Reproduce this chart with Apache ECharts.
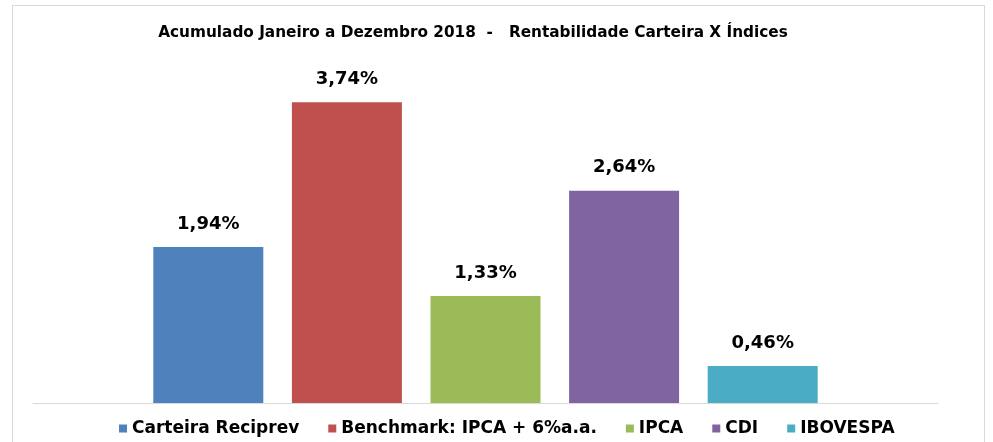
<!DOCTYPE html>
<html>
<head>
<meta charset="utf-8">
<script src="https://cdn.jsdelivr.net/npm/echarts@6/dist/echarts.min.js"></script>
<style>
  html, body { margin: 0; padding: 0; background: #fff; }
  #frame { position: absolute; left: 12px; top: 5px; width: 973px; height: 450px; border: 1px solid #d9d9d9; box-sizing: border-box; }
  #chart { position: absolute; left: 0; top: 0; width: 993px; height: 442px; }
</style>
</head>
<body>
<div id="frame"></div>
<div id="chart"></div>
<script>
const seriesNames = ["Carteira Reciprev", "Benchmark: IPCA + 6%a.a.", "IPCA", "CDI", "IBOVESPA"];
const seriesValues = [1.94, 3.74, 1.33, 2.64, 0.46];
const seriesColors = ["#4f81bd", "#c0504d", "#9bbb59", "#8064a2", "#4bacc6"];
const categories = [""];

const font = "DejaVu Sans";

const chart = echarts.init(document.getElementById("chart"));

chart.setOption({
  animation: false,
  title: {
    text: "Acumulado Janeiro a Dezembro 2018  -   Rentabilidade Carteira X Índices",
    left: 468,
    textAlign: "center",
    top: 21,
    textStyle: { fontFamily: font, fontWeight: "bold", fontSize: 15.3, color: "#000" },
  },
  legend: {
    bottom: 0,
    left: 114,
    itemWidth: 8,
    itemHeight: 8,
    itemGap: 29,
    icon: "rect",
    textStyle: { fontFamily: font, fontWeight: "bold", fontSize: 17, color: "#000" },
    data: seriesNames,
  },
  grid: { left: 33, right: 55, top: 41, bottom: 39 },
  xAxis: {
    type: "category",
    data: categories,
    axisTick: { show: false },
    axisLabel: { show: false },
    axisLine: { lineStyle: { color: "#d9d9d9", width: 1 } },
  },
  yAxis: {
    type: "value",
    min: 0,
    max: 4.5,
    show: false,
    splitLine: { show: false },
  },
  series: seriesNames.map((name, i) => ({
    name: name,
    type: "bar",
    barWidth: 110,
    barGap: "26%",
    itemStyle: { color: seriesColors[i] },
    label: {
      show: true,
      position: "top",
      distance: 14,
      fontFamily: font,
      fontWeight: "bold",
      fontSize: 18,
      color: "#000",
      formatter: (p) => p.value.toFixed(2).replace(".", ",") + "%",
    },
    data: [seriesValues[i]],
  })),
});
</script>
</body>
</html>
